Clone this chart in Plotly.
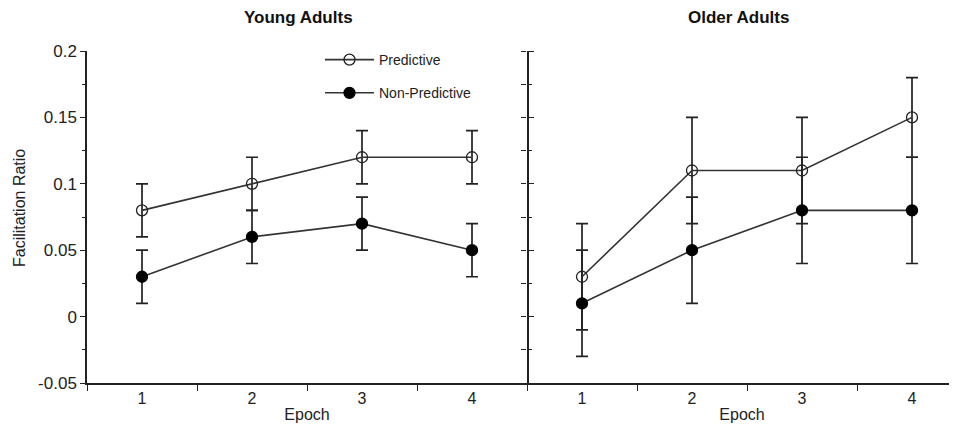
import plotly.graph_objects as go

epochs = [1, 2, 3, 4]
tick_labels = ["1", "2", "3", "4"]

young_pred = [0.08, 0.10, 0.12, 0.12]
young_pred_err = [0.02, 0.02, 0.02, 0.02]
young_nonpred = [0.03, 0.06, 0.07, 0.05]
young_nonpred_err = [0.02, 0.02, 0.02, 0.02]

older_pred = [0.03, 0.11, 0.11, 0.15]
older_pred_err = [0.04, 0.04, 0.04, 0.03]
older_nonpred = [0.01, 0.05, 0.08, 0.08]
older_nonpred_err = [0.04, 0.04, 0.04, 0.04]

y_tickvals = [-0.05, 0, 0.05, 0.1, 0.15, 0.2]
y_ticktext = ["-0.05", "0", "0.05", "0.1", "0.15", "0.2"]
y_all_ticks = [-0.05, -0.025, 0, 0.025, 0.05, 0.075, 0.1, 0.125, 0.15, 0.175, 0.2]

FONT = "Liberation Sans, Arial, Helvetica, sans-serif"
LINE_COL = "#333333"
INK = "#222222"

# page body has an 8px default margin; work in screenshot pixels and shift
OFF = 8
FIG_W, FIG_H = 957 - OFF, 433 - OFF
# plot-area geometry in screenshot pixels
L, T, B, R = 87, 51, 383, 957
W = R - L
H = B - T

fig = go.Figure()


def add_series(x, y, err, xa, ya, name, filled, show):
    fig.add_trace(go.Scatter(
        x=x, y=y, xaxis=xa, yaxis=ya, name=name, mode="lines+markers",
        legendgroup=name, showlegend=show,
        line=dict(color=LINE_COL, width=1.6),
        marker=dict(symbol="circle" if filled else "circle-open", size=11,
                    color="black" if filled else INK,
                    line=dict(width=1.3, color="black")),
        error_y=dict(type="data", array=err, visible=True, color=INK,
                     thickness=1.7, width=6),
        cliponaxis=False,
    ))


add_series(epochs, young_pred, young_pred_err, "x", "y", "Predictive", False, True)
add_series(epochs, young_nonpred, young_nonpred_err, "x", "y", "Non-Predictive", True, True)
add_series(epochs, older_pred, older_pred_err, "x2", "y2", "Predictive", False, False)
add_series(epochs, older_nonpred, older_nonpred_err, "x2", "y2", "Non-Predictive", True, False)

split = 440 / W

xcommon = dict(
    tickvals=epochs, ticktext=tick_labels, ticks="",
    showline=True, linecolor=INK, linewidth=1.5,
    showgrid=False, zeroline=False, automargin=False,
    tickfont=dict(family=FONT, size=16, color=INK),
    minor=dict(ticks="outside", tick0=0.5, dtick=1, ticklen=6, tickwidth=1, tickcolor=INK, showgrid=False),
    title=dict(text="Epoch", font=dict(family=FONT, size=16, color=INK), standoff=3),
)


def px_x(p):
    return (p - L) / W


def px_y(p):
    return (B - p) / H


fig.update_layout(
    width=FIG_W, height=FIG_H,
    margin=dict(l=L - OFF, r=0, t=T - OFF, b=(FIG_H + OFF) - B, autoexpand=False),
    paper_bgcolor="white", plot_bgcolor="white",
    font=dict(family=FONT, color=INK),
    xaxis=dict(domain=[0, split], range=[0.5, 4.5], anchor="y", **xcommon),
    xaxis2=dict(domain=[split, 1], range=[0.5, 0.5 + (W - 440) / 110], anchor="y2", **xcommon),
    yaxis=dict(
        range=[-0.05, 0.2], anchor="x", tickvals=y_tickvals, ticktext=y_ticktext,
        ticks="outside", ticklen=5, tickwidth=1, tickcolor=INK,
        showline=True, linecolor=INK, linewidth=1.5, mirror="ticks",
        showgrid=False, zeroline=False, automargin=False,
        tickfont=dict(family=FONT, size=17, color=INK),
        minor=dict(ticks="outside", tick0=-0.05, dtick=0.025, ticklen=3, tickwidth=1, tickcolor=INK, showgrid=False),
    ),
    yaxis2=dict(
        range=[-0.05, 0.2], anchor="x2", tickvals=y_all_ticks, showticklabels=False,
        ticks="outside", ticklen=5, tickwidth=1, tickcolor=INK,
        showline=False, showgrid=False, zeroline=False, automargin=False,
    ),
    legend=dict(
        x=px_x(320), y=px_y(44), xanchor="left", yanchor="top",
        bgcolor="rgba(0,0,0,0)", font=dict(family=FONT, size=14, color=INK),
        itemwidth=49, tracegroupgap=12, traceorder="grouped",
    ),
    annotations=[
        dict(text="<b>Young Adults</b>", x=px_x(298), y=px_y(17), xref="paper", yref="paper",
             xanchor="center", yanchor="middle", showarrow=False,
             font=dict(family=FONT, size=17, color="#111111")),
        dict(text="<b>Older Adults</b>", x=px_x(738), y=px_y(17), xref="paper", yref="paper",
             xanchor="center", yanchor="middle", showarrow=False,
             font=dict(family=FONT, size=17, color="#111111")),
        dict(text="Facilitation Ratio", x=px_x(19), y=px_y(208), xref="paper", yref="paper",
             xanchor="center", yanchor="middle", textangle=-90, showarrow=False,
             font=dict(family=FONT, size=16, color=INK)),
    ],
)

fig.write_html("out.html")
